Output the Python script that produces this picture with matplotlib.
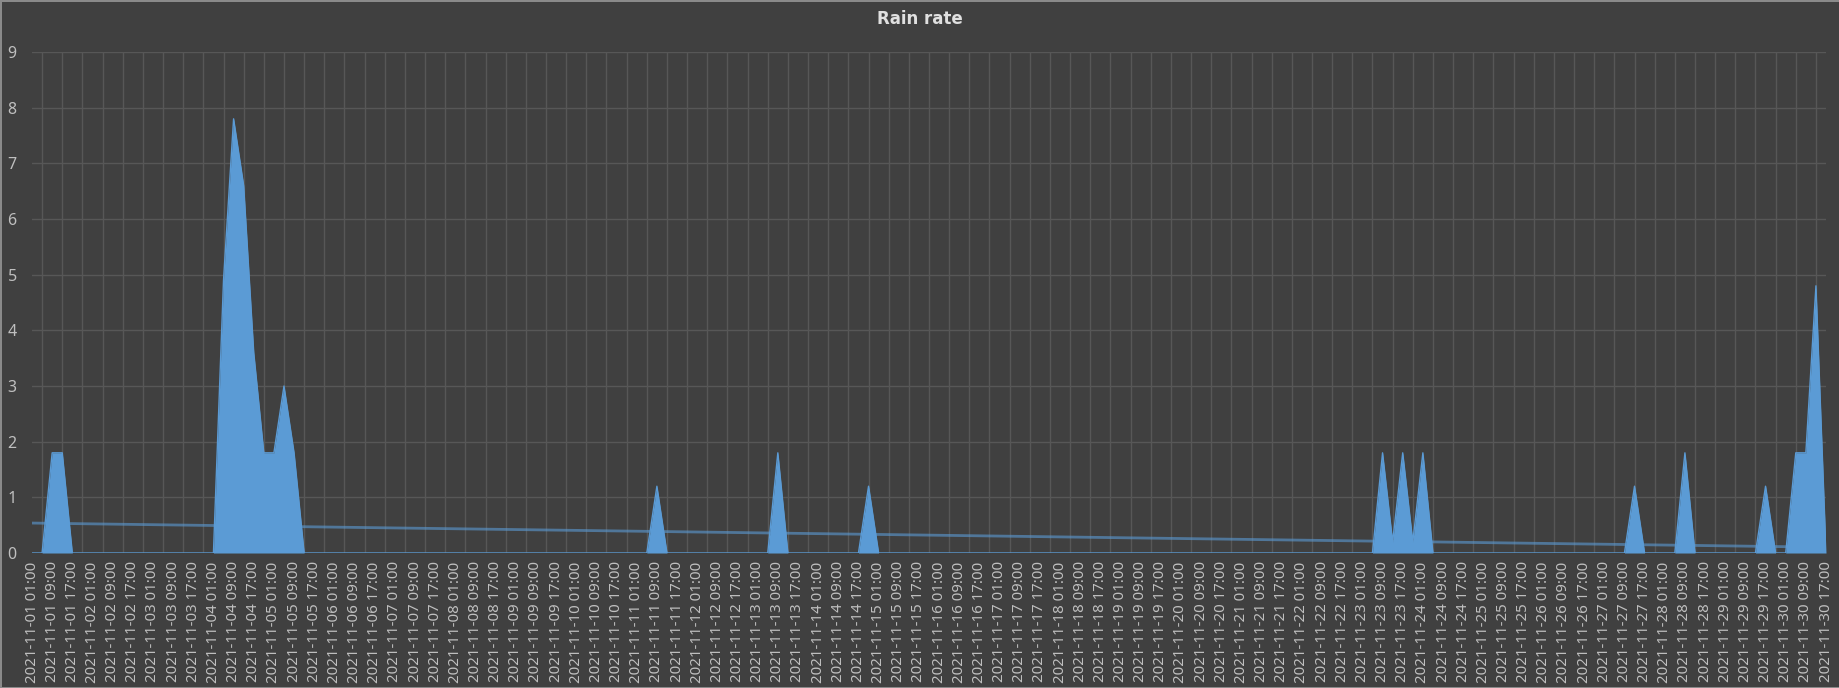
import numpy as np
import pandas as pd
import matplotlib
matplotlib.use('Agg')
import matplotlib.pyplot as plt

plt.rcParams['font.family'] = ['Noto Sans', 'DejaVu Sans']

# 4-hourly categories, 2021-11-01 01:00 .. 2021-11-30 17:00
start_time = '2021-11-01 01:00'
end_time = '2021-11-30 17:00'

# non-zero readings (everything else is 0)
rain_times = ['2021-11-01 09:00', '2021-11-01 13:00',
              '2021-11-04 05:00', '2021-11-04 09:00', '2021-11-04 13:00',
              '2021-11-04 17:00', '2021-11-04 21:00', '2021-11-05 01:00',
              '2021-11-05 05:00', '2021-11-05 09:00',
              '2021-11-11 09:00', '2021-11-13 09:00', '2021-11-14 21:00',
              '2021-11-23 09:00', '2021-11-23 13:00', '2021-11-23 17:00',
              '2021-11-23 21:00', '2021-11-24 01:00',
              '2021-11-27 13:00', '2021-11-28 09:00', '2021-11-29 17:00',
              '2021-11-30 05:00', '2021-11-30 09:00', '2021-11-30 13:00']
rain_values = [1.8, 1.8,
               4.9, 7.8, 6.6,
               3.6, 1.8, 1.8,
               3.0, 1.8,
               1.2, 1.8, 1.2,
               1.8, 0.2, 1.8,
               0.2, 1.8,
               1.2, 1.8, 1.2,
               1.8, 1.8, 4.8]

times = pd.date_range(start_time, end_time, freq='4h')
labels = times.strftime('%Y-%m-%d %H:%M')
rate = pd.Series(0.0, index=labels)
rate[rain_times] = rain_values

x = np.arange(len(rate))
y = rate.values

bg = '#404040'
grid = '#575757'
text = '#BFBFBF'
blue = '#5B9BD5'

fig = plt.figure(figsize=(18.4, 6.88), dpi=100, facecolor=bg,
                 edgecolor='#8a8a8a', linewidth=2)
ax = fig.add_axes([0.0174, 0.1962, 0.975, 0.7282])
ax.set_facecolor(bg)

ax.set_axisbelow(True)
ax.fill_between(x, 0, y, color=blue, lw=0)
ax.plot(x, y, color=blue, lw=1)

# linear trendline
k, b = np.polyfit(x, y, 1)
ax.plot(x, k * x + b, color=blue, lw=2, alpha=0.6)

ax.set_xlim(0, len(x) - 1)
ax.set_ylim(0, 9)
ax.set_yticks(range(10))
ax.set_xticks(x, minor=True)
ax.set_xticks(x[::2])
ax.set_xticklabels(labels[::2], rotation=90, fontsize=10.8, color=text)
ax.tick_params(axis='y', labelsize=11.5, colors=text, length=0, pad=11)
ax.tick_params(axis='x', which='both', length=0, pad=6)
ax.grid(axis='y', color=grid, lw=1)
ax.grid(axis='x', which='minor', color=grid, lw=1)
for s in ax.spines.values():
    s.set_visible(False)

fig.text(0.5, 0.972, 'Rain rate', ha='center', va='center',
         fontsize=12, fontweight='bold', color='#E0E0E0',
         family=['DejaVu Sans'])

fig.savefig('out.png', facecolor=bg, edgecolor=fig.get_edgecolor())
